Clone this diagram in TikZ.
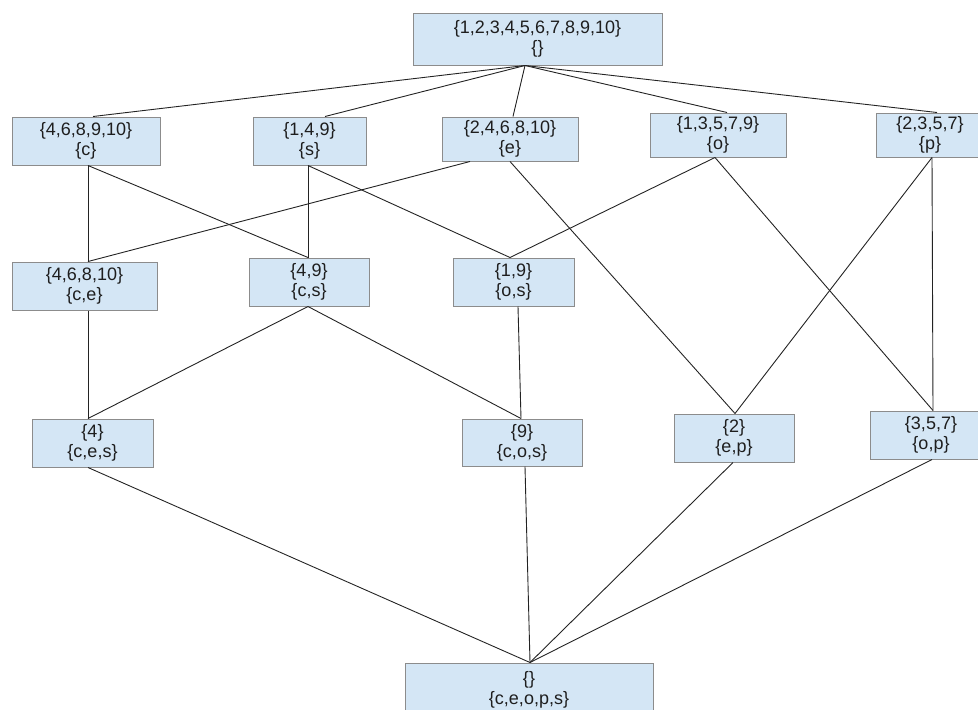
\documentclass[tikz,border=0pt]{standalone}
\usepackage{fontspec}
\setmainfont{Liberation Sans}
\definecolor{boxfill}{RGB}{212,230,245}
\definecolor{boxline}{RGB}{140,140,140}
\definecolor{txt}{RGB}{30,30,30}
\definecolor{edge}{RGB}{35,35,35}
\begin{document}
\begin{tikzpicture}[x=1pt,y=-1pt,
  setbox/.style={draw=boxline,fill=boxfill,line width=1pt,inner sep=0pt,align=center,
    text=txt,font=\fontsize{18}{20}\selectfont},
  link/.style={draw=edge,line width=0.9pt}]
\useasboundingbox (0,0) rectangle (978,710);
% top
\node[setbox,minimum width=249pt,minimum height=52pt] (top) at (537.5,39) {\{1,2,3,4,5,6,7,8,9,10\}\\\{\}};
% row 1
\node[setbox,minimum width=148pt,minimum height=48pt] (c) at (86,141) {\{4,6,8,9,10\}\\\{c\}};
\node[setbox,minimum width=113pt,minimum height=48pt] (s) at (309.5,141) {\{1,4,9\}\\\{s\}};
\node[setbox,minimum width=136pt,minimum height=44pt] (e) at (510,139) {\{2,4,6,8,10\}\\\{e\}};
\node[setbox,minimum width=136pt,minimum height=44pt] (o) at (718,135) {\{1,3,5,7,9\}\\\{o\}};
\node[setbox,minimum width=108pt,minimum height=44pt] (p) at (930,135) {\{2,3,5,7\}\\\{p\}};
% row 2
\node[setbox,minimum width=145pt,minimum height=48pt] (ce) at (84.5,286) {\{4,6,8,10\}\\\{c,e\}};
\node[setbox,minimum width=120pt,minimum height=48pt] (cs) at (309,282) {\{4,9\}\\\{c,s\}};
\node[setbox,minimum width=121pt,minimum height=48pt] (os) at (513.5,282) {\{1,9\}\\\{o,s\}};
% row 3
\node[setbox,minimum width=121pt,minimum height=48pt] (ces) at (92.5,443) {\{4\}\\\{c,e,s\}};
\node[setbox,minimum width=120pt,minimum height=47pt] (cos) at (522,442.5) {\{9\}\\\{c,o,s\}};
\node[setbox,minimum width=120pt,minimum height=48pt] (ep) at (734,438) {\{2\}\\\{e,p\}};
\node[setbox,minimum width=122pt,minimum height=48pt] (op) at (931,435) {\{3,5,7\}\\\{o,p\}};
% bottom
\node[setbox,minimum width=248pt,minimum height=54pt] (bot) at (529,690) {\{\}\\\{c,e,o,p,s\}};
% edges
\coordinate (tops) at ([xshift=-12.5pt]top.south);
\draw[link] (tops) -- ([xshift=7pt]c.north);
\draw[link] (tops) -- ([xshift=15.5pt]s.north);
\draw[link] (tops) -- ([xshift=3pt]e.north);
\draw[link] (tops) -- ([xshift=9pt]o.north);
\draw[link] (tops) -- ([xshift=7pt]p.north);
\draw[link] ([xshift=2pt]c.south) -- ([xshift=3.5pt]ce.north);
\draw[link] ([xshift=2pt]c.south) -- ([xshift=-1pt]cs.north);
\draw[link] ([xshift=-1.5pt]s.south) -- ([xshift=-1pt]cs.north);
\draw[link] ([xshift=-1.5pt]s.south) -- ([xshift=-3.5pt]os.north);
\draw[link] ([xshift=-40pt]e.south) -- ([xshift=3.5pt]ce.north);
\draw[link] (e.south) -- ([xshift=1pt]ep.north);
\draw[link] ([xshift=-3pt]o.south) -- ([xshift=-3.5pt]os.north);
\draw[link] ([xshift=-3pt]o.south) -- ([xshift=2pt]op.north);
\draw[link] ([xshift=2pt]p.south) -- ([xshift=1pt]ep.north);
\draw[link] ([xshift=2pt]p.south) -- ([xshift=2pt]op.north);
\draw[link] ([xshift=3.5pt]ce.south) -- ([xshift=-4.5pt]ces.north);
\draw[link] ([xshift=-1pt]cs.south) -- ([xshift=-4.5pt]ces.north);
\draw[link] ([xshift=-1pt]cs.south) -- ([xshift=-1pt]cos.north);
\draw[link] ([xshift=4.5pt]os.south) -- ([xshift=-1pt]cos.north);
\coordinate (botn) at ([xshift=1pt]bot.north);
\draw[link] ([xshift=-4.5pt]ces.south) -- (botn);
\draw[link] ([xshift=3pt]cos.south) -- (botn);
\draw[link] ([xshift=-1pt]ep.south) -- (botn);
\draw[link] ([xshift=1pt]op.south) -- (botn);
\end{tikzpicture}
\end{document}
